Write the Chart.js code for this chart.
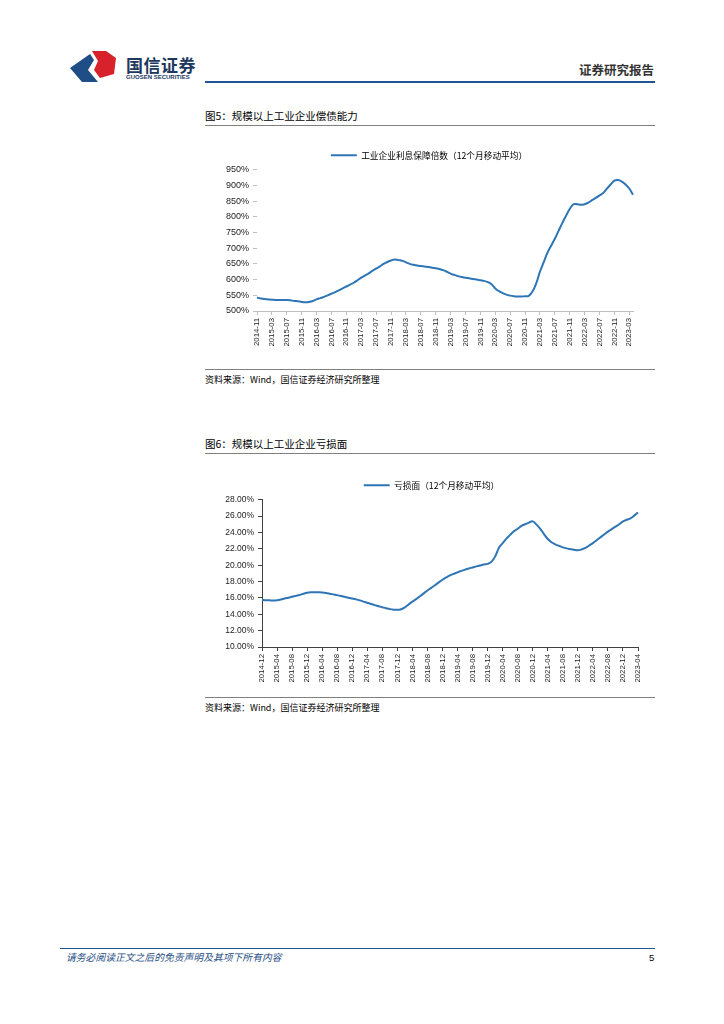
<!DOCTYPE html>
<html>
<head>
<meta charset="utf-8">
<script src="https://cdn.jsdelivr.net/npm/chart.js@4.4.0/dist/chart.umd.min.js"></script>
<style>
  body { margin: 0; width: 724px; height: 1024px; background: #fff; position: relative;
         font-family: "Noto Sans CJK SC", "Noto Sans", sans-serif; overflow: hidden; }
  .abs { position: absolute; }
  .title { font-size: 10.5px; color: #000; }
  .rule { height: 1px; background: #808080; }
  .src { font-size: 9px; color: #000; }
</style>
</head>
<body>
<!-- header -->
<svg class="abs" style="left:68px;top:48px" width="52" height="36" viewBox="0 0 52 36">
  <polygon points="2,20 22,6 26,12 20,22 30,34 14,34" fill="#1f4e86"/>
  <polygon points="24,3 38,3 48,10 46,26 32,30 26,22 30,13" fill="#d7222b"/>
</svg>
<div class="abs" style="left:126px;top:52px;font-size:17px;font-weight:bold;color:#20375e;letter-spacing:0.5px">国信证券</div>
<div class="abs" style="left:126px;top:74px;font-size:6px;font-weight:bold;color:#20375e;font-family:'Liberation Sans',sans-serif">GUOSEN SECURITIES</div>
<div class="abs" style="left:579px;top:60px;font-size:12.5px;font-weight:bold;color:#333">证券研究报告</div>
<div class="abs" style="left:205px;top:81px;width:450px;height:2px;background:#1f5592"></div>

<!-- chart 1 -->
<div class="abs title" style="left:205px;top:108px">图5：规模以上工业企业偿债能力</div>
<div class="abs rule" style="left:205px;top:125px;width:450px"></div>
<div class="abs" style="left:205px;top:140px;width:450px;height:225px"><canvas id="chart-coverage"></canvas></div>
<div class="abs rule" style="left:205px;top:369px;width:450px"></div>
<div class="abs src" style="left:205px;top:373px">资料来源：Wind，国信证券经济研究所整理</div>

<!-- chart 2 -->
<div class="abs title" style="left:205px;top:436px">图6：规模以上工业企业亏损面</div>
<div class="abs rule" style="left:205px;top:453px;width:450px"></div>
<div class="abs" style="left:205px;top:465px;width:455px;height:232px"><canvas id="chart-loss"></canvas></div>
<div class="abs rule" style="left:205px;top:697px;width:450px"></div>
<div class="abs src" style="left:205px;top:701px">资料来源：Wind，国信证券经济研究所整理</div>

<!-- footer -->
<div class="abs" style="left:60px;top:948px;width:595px;height:1px;background:#1f5592"></div>
<div class="abs" style="left:66px;top:950px;font-size:9.8px;font-style:italic;color:#1f4e86">请务必阅读正文之后的免责声明及其项下所有内容</div>
<div class="abs" style="left:649px;top:952px;font-size:9.5px;color:#000;font-family:'Liberation Sans',sans-serif">5</div>

<script>
// ==================================================
// DATA
// ==================================================
// monthly, 2014-11 .. 2023-04
const coverageMonths = [];
for (let y = 2014; y <= 2023; y++) {
  for (let m = 1; m <= 12; m++) {
    if ((y === 2014 && m < 11) || (y === 2023 && m > 4)) continue;
    coverageMonths.push(`${y}-${String(m).padStart(2, "0")}`);
  }
}
const coverageValues = [
  543, 540, 538, 537, 536, 535, 535, 535, 535, 534, 532, 531,
  529, 528, 529, 532, 537, 541, 545, 550, 555, 560, 566, 572,
  578, 584, 590, 598, 606, 613, 620, 628, 635, 642, 650, 656,
  661, 664, 662, 660, 655, 650, 647, 645, 643, 642, 640, 638,
  636, 634, 630, 625, 619, 615, 611, 608, 606, 604, 602, 600,
  598, 596, 592, 585, 572, 563, 557, 552, 549, 547, 546, 546,
  547, 548, 562, 588, 625, 655, 685, 708, 730, 755, 780, 803,
  825, 840, 840, 838, 840, 845, 853, 860, 868, 876, 890, 903,
  915, 917, 912, 903, 890, 870
];
const coverageTicks = [500, 550, 600, 650, 700, 750, 800, 850, 900, 950];

// monthly, 2014-12 .. 2023-04
const lossMonths = coverageMonths.slice(1);
const lossValues = [
  15.78, 15.72, 15.70, 15.69, 15.72, 15.80, 15.92, 16.03, 16.14, 16.25,
  16.36, 16.50, 16.62, 16.68, 16.70, 16.68, 16.65, 16.60, 16.52, 16.43,
  16.34, 16.24, 16.13, 16.02, 15.92, 15.82, 15.70, 15.55, 15.40, 15.26,
  15.12, 14.98, 14.86, 14.74, 14.63, 14.56, 14.54, 14.62, 14.85, 15.20,
  15.55, 15.85, 16.20, 16.55, 16.90, 17.22, 17.55, 17.90, 18.22, 18.50,
  18.75, 18.95, 19.12, 19.30, 19.45, 19.60, 19.72, 19.85, 19.97, 20.08,
  20.16, 20.40, 21.06, 22.10, 22.70, 23.25, 23.70, 24.15, 24.45, 24.80,
  25.00, 25.20, 25.35, 24.95, 24.45, 23.80, 23.20, 22.80, 22.55, 22.35,
  22.18, 22.05, 21.96, 21.88, 21.82, 21.92, 22.10, 22.40, 22.70, 23.05,
  23.40, 23.75, 24.10, 24.40, 24.70, 25.00, 25.35, 25.55, 25.72, 26.05,
  26.45
];
const lossTicks = [10, 12, 14, 16, 18, 20, 22, 24, 26, 28];

// ==================================================
// CHARTS
// ==================================================
const LINE_COLOR = "#2e75b6";
const legendFont = { family: "'Noto Sans CJK SC', sans-serif", size: 8.7 };

function makeChart(id, opts) {
  const ctx = document.getElementById(id).getContext("2d");
  return new Chart(ctx, {
    type: "line",
    data: {
      labels: opts.labels,
      datasets: [
        {
          label: opts.label,
          data: opts.data,
          borderColor: LINE_COLOR,
          backgroundColor: LINE_COLOR,
          borderWidth: 2,
          pointRadius: 0,
          tension: 0.4,
          fill: false,
        },
      ],
    },
    options: {
      responsive: true,
      maintainAspectRatio: false,
      animation: false,
      // left padding pushes the centred legend right; y axis width is reduced to match
      layout: { padding: { left: 20, right: opts.padRight, top: opts.padTop } },
      plugins: {
        tooltip: { enabled: false },
        legend: {
          position: "top",
          labels: {
            usePointStyle: true,
            pointStyle: "line",
            pointStyleWidth: 26,
            color: "#000",
            font: legendFont,
            padding: 10,
          },
        },
      },
      scales: {
        x: {
          afterFit: (s) => { s.height = opts.xHeight; },
          grid: {
            display: true,
            drawOnChartArea: false,
            drawTicks: true,
            tickLength: 4,
            color: opts.axisColor,
          },
          border: { display: true, color: opts.axisColor },
          ticks: {
            autoSkip: false,
            maxRotation: 90,
            minRotation: 90,
            color: "#222",
            font: { family: "'Liberation Sans', Arial, sans-serif", size: 7.8 },
            callback: function (value, index) {
              return index % 4 === 0 ? opts.labels[index] : null;
            },
          },
        },
        y: {
          min: opts.ticks[0],
          max: opts.ticks[opts.ticks.length - 1],
          afterFit: (s) => { s.width = opts.yWidth - 20; },
          afterBuildTicks: (s) => { s.ticks = opts.ticks.map((v) => ({ value: v })); },
          grid: {
            display: true,
            drawOnChartArea: false,
            drawTicks: true,
            tickLength: 4,
            color: opts.yTickColor,
          },
          border: { display: opts.yBorder, color: opts.axisColor },
          ticks: {
            color: "#222",
            font: { family: "'Liberation Sans', Arial, sans-serif", size: opts.yFontSize },
            padding: 4,
            callback: opts.format,
          },
        },
      },
    },
  });
}

makeChart("chart-coverage", {
  labels: coverageMonths,
  data: coverageValues,
  ticks: coverageTicks,
  label: "工业企业利息保障倍数（12个月移动平均）",
  format: (v) => v + "%",
  yWidth: 52,
  yFontSize: 9,
  xHeight: 54,
  padRight: 22,
  padTop: 1,
  axisColor: "#bfbfbf",
  yTickColor: "#bfbfbf",
  yBorder: false,
});

makeChart("chart-loss", {
  labels: lossMonths,
  data: lossValues,
  ticks: lossTicks,
  label: "亏损面（12个月移动平均）",
  format: (v) => v.toFixed(2) + "%",
  yWidth: 57,
  yFontSize: 8.5,
  xHeight: 50,
  padRight: 22,
  padTop: 6,
  axisColor: "#404040",
  yTickColor: "#404040",
  yBorder: true,
});
</script>
</body>
</html>
